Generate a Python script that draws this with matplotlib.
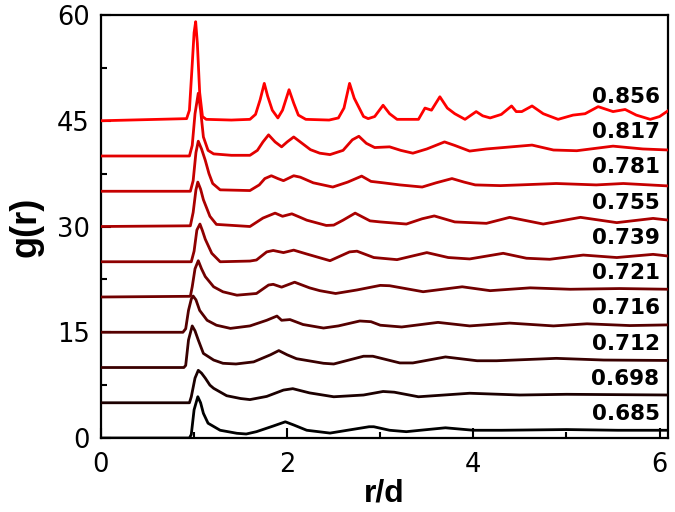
import matplotlib
matplotlib.use("Agg")
import matplotlib.pyplot as plt
from matplotlib.ticker import MultipleLocator

# ---- data ----
labels = ["0.685", "0.698", "0.712", "0.716", "0.721", "0.739", "0.755", "0.781", "0.817", "0.856"]
offsets = [0, 5, 10, 15, 20, 25, 30, 35, 40, 45]

r_0685 = [0, 0.95, 0.97, 1.00, 1.04, 1.07, 1.10, 1.15, 1.28, 1.46, 1.56, 1.67, 1.85, 1.98, 2.07, 2.21, 2.46, 2.88, 2.93, 3.10, 3.28, 3.43, 3.70, 4.00, 4.30, 5.00, 5.55, 6.1]
g_0685 = [0, 0.0, 0.5, 4.0, 5.86, 5.0, 3.5, 2.1, 1.1, 0.67, 0.57, 0.9, 1.7, 2.3, 1.85, 1.1, 0.7, 1.6, 1.6, 1.1, 0.9, 1.1, 1.45, 1.1, 1.1, 1.2, 1.1, 1.1]

r_0698 = [0, 0.95, 0.97, 1.01, 1.045, 1.08, 1.12, 1.17, 1.21, 1.35, 1.50, 1.60, 1.78, 1.96, 2.06, 2.24, 2.50, 2.82, 3.03, 3.15, 3.41, 3.96, 4.50, 5.00, 6.1]
g_0698 = [0, 0.0, 0.85, 3.5, 4.6, 4.2, 3.5, 2.5, 2.05, 1.0, 0.6, 0.45, 0.9, 1.8, 2.0, 1.4, 0.85, 1.1, 1.6, 1.5, 0.85, 1.35, 1.1, 1.2, 1.1]

r_0712 = [0, 0.89, 0.91, 0.94, 0.98, 1.01, 1.045, 1.10, 1.21, 1.31, 1.45, 1.64, 1.82, 1.91, 2.00, 2.10, 2.39, 2.50, 2.82, 2.92, 3.21, 3.35, 3.70, 4.04, 4.25, 4.89, 5.40, 6.1]
g_0712 = [0, 0.0, 0.3, 3.9, 5.9, 5.2, 3.9, 2.0, 1.06, 0.6, 0.5, 0.8, 1.8, 2.4, 1.8, 1.25, 0.6, 0.5, 1.6, 1.6, 0.65, 0.65, 1.5, 0.96, 0.96, 1.3, 1.06, 1.0]

r_0716 = [0, 0.88, 0.91, 0.94, 0.97, 0.99, 1.02, 1.06, 1.14, 1.24, 1.39, 1.60, 1.78, 1.89, 1.94, 2.03, 2.17, 2.39, 2.55, 2.78, 2.90, 3.00, 3.23, 3.62, 3.96, 4.39, 4.86, 5.22, 5.68, 6.1]
g_0716 = [0, 0.0, 0.5, 3.1, 4.7, 5.14, 4.6, 3.1, 1.7, 1.0, 0.55, 0.9, 1.7, 2.3, 1.7, 1.8, 1.1, 0.6, 0.9, 1.6, 1.5, 1.0, 0.75, 1.4, 0.9, 1.3, 0.9, 1.2, 0.95, 1.05]

r_0721 = [0, 0.96, 0.98, 1.01, 1.045, 1.08, 1.12, 1.21, 1.31, 1.46, 1.67, 1.80, 1.85, 1.94, 2.08, 2.24, 2.35, 2.52, 2.75, 3.00, 3.10, 3.46, 3.88, 4.18, 4.61, 5.04, 5.57, 6.1]
g_0721 = [0, 0.1, 1.45, 4.0, 5.15, 4.0, 2.9, 1.45, 0.74, 0.26, 0.5, 1.7, 1.8, 1.4, 2.1, 1.3, 0.9, 0.5, 1.0, 1.65, 1.6, 0.75, 1.45, 0.9, 1.3, 1.1, 1.2, 1.1]

r_0739 = [0, 0.97, 1.00, 1.03, 1.063, 1.09, 1.12, 1.19, 1.28, 1.60, 1.67, 1.78, 1.85, 1.96, 2.07, 2.21, 2.46, 2.67, 2.75, 2.93, 3.18, 3.50, 3.73, 3.96, 4.32, 4.57, 4.82, 5.18, 5.54, 5.93, 6.1]
g_0739 = [0, 0.0, 1.5, 4.5, 5.35, 4.4, 3.2, 1.2, 0.0, 0.1, 0.25, 1.4, 1.6, 1.3, 1.65, 1.1, 0.15, 1.4, 1.5, 0.6, 0.3, 1.3, 0.6, 0.4, 1.2, 0.5, 0.35, 0.95, 0.6, 1.05, 0.8]

r_0755 = [0, 0.96, 0.99, 1.02, 1.04, 1.07, 1.10, 1.17, 1.24, 1.60, 1.74, 1.87, 1.95, 2.05, 2.14, 2.21, 2.42, 2.50, 2.60, 2.73, 2.89, 3.00, 3.28, 3.45, 3.58, 3.80, 4.14, 4.39, 4.75, 5.15, 5.54, 5.93, 6.1]
g_0755 = [0, 0.1, 2.0, 5.2, 6.3, 5.3, 3.8, 1.45, 0.3, 0.0, 1.2, 1.9, 1.45, 1.8, 1.3, 0.9, 0.15, 0.2, 0.9, 1.9, 0.8, 0.65, 0.35, 1.1, 1.5, 0.65, 0.45, 1.3, 0.35, 1.3, 0.55, 1.15, 0.9]

r_0781 = [0, 0.96, 0.99, 1.02, 1.045, 1.08, 1.12, 1.16, 1.20, 1.28, 1.60, 1.70, 1.76, 1.83, 1.90, 1.96, 2.07, 2.14, 2.28, 2.49, 2.65, 2.80, 2.90, 3.03, 3.21, 3.45, 3.60, 3.77, 3.90, 4.02, 4.29, 4.50, 4.89, 5.32, 5.61, 6.1]
g_0781 = [0, 0.0, 1.5, 5.5, 7.1, 6.0, 4.4, 2.5, 1.1, 0.2, 0.1, 0.9, 1.8, 2.2, 1.8, 1.5, 2.2, 2.0, 1.2, 0.6, 1.3, 2.15, 1.4, 1.2, 0.9, 0.6, 1.2, 1.8, 1.3, 0.9, 0.8, 0.9, 1.1, 0.9, 1.1, 0.75]

r_0817 = [0, 0.95, 0.98, 1.01, 1.045, 1.07, 1.10, 1.15, 1.21, 1.40, 1.60, 1.68, 1.74, 1.80, 1.87, 1.94, 2.00, 2.07, 2.14, 2.25, 2.35, 2.46, 2.60, 2.70, 2.77, 2.85, 2.94, 3.10, 3.22, 3.35, 3.50, 3.69, 3.80, 3.96, 4.14, 4.32, 4.63, 4.86, 5.11, 5.50, 5.82, 6.1]
g_0817 = [0, 0.0, 1.5, 6.0, 8.9, 6.5, 2.7, 0.8, 0.3, 0.1, 0.1, 0.8, 2.0, 3.0, 2.0, 1.3, 2.0, 2.7, 2.0, 0.9, 0.4, 0.2, 0.8, 2.3, 2.8, 1.8, 1.2, 1.3, 0.8, 0.4, 1.0, 2.0, 1.5, 0.7, 1.0, 1.2, 1.55, 0.85, 0.75, 1.4, 1.0, 0.85]

r_0856 = [0, 0.92, 0.95, 0.98, 1.00, 1.017, 1.035, 1.06, 1.09, 1.13, 1.40, 1.60, 1.66, 1.71, 1.754, 1.79, 1.84, 1.90, 1.95, 2.02, 2.07, 2.12, 2.20, 2.45, 2.55, 2.61, 2.67, 2.72, 2.77, 2.82, 2.87, 2.94, 3.03, 3.10, 3.18, 3.41, 3.48, 3.55, 3.64, 3.72, 3.80, 3.91, 4.03, 4.10, 4.18, 4.30, 4.41, 4.46, 4.52, 4.63, 4.75, 4.91, 5.07, 5.20, 5.34, 5.50, 5.63, 5.75, 5.90, 6.00, 6.1]
g_0856 = [0, 0.3, 1.5, 8.0, 12.5, 14.05, 11.0, 4.0, 0.6, 0.2, 0.1, 0.2, 0.9, 3.0, 5.3, 3.5, 1.5, 0.4, 1.5, 4.4, 2.5, 0.8, 0.2, 0.1, 0.4, 1.8, 5.3, 3.2, 1.9, 0.6, 0.3, 0.6, 2.2, 1.0, 0.2, 0.2, 1.8, 1.5, 3.4, 1.8, 1.0, 0.2, 1.3, 0.7, 0.4, 0.9, 2.1, 1.3, 1.3, 2.1, 1.0, 0.2, 0.8, 1.0, 2.0, 1.3, 1.6, 0.8, 0.2, 0.6, 1.5]

r_series = [r_0685, r_0698, r_0712, r_0716, r_0721, r_0739, r_0755, r_0781, r_0817, r_0856]
g_series = [g_0685, g_0698, g_0712, g_0716, g_0721, g_0739, g_0755, g_0781, g_0817, g_0856]

y_ticks = [0, 15, 30, 45, 60]
x_ticks = [0, 2, 4, 6]

# ---- style ----
colors = ["#000000", "#1c0000", "#390000", "#550000", "#710000",
          "#8e0000", "#aa0000", "#c60000", "#e30000", "#ff0000"]

fig = plt.figure(figsize=(6.75, 5.12), dpi=100)
ax = fig.add_axes([0.1496, 0.1445, 0.8393, 0.8262])

for r, g, off, col, lab in zip(r_series, g_series, offsets, colors, labels):
    ax.plot(r, [v + off for v in g], color=col, lw=2.0, solid_joinstyle="round", zorder=3)
    ax.text(6.0, off + 3.4, lab, ha="right", va="center", fontsize=15.5,
            fontweight="bold", family="DejaVu Sans", color="black", zorder=4)

ax.set_xlim(0, 6.085)
ax.set_ylim(0, 60)
ax.set_xticks(x_ticks)
ax.set_yticks(y_ticks)
ax.xaxis.set_minor_locator(MultipleLocator(1))
ax.yaxis.set_minor_locator(MultipleLocator(7.5))
ax.tick_params(which="both", direction="in", width=1.5, top=False, right=False)
ax.tick_params(which="major", length=7, labelsize=18.5, pad=8)
ax.tick_params(axis="x", which="major", pad=10)
ax.tick_params(which="minor", length=4)
for lbl in ax.get_xticklabels() + ax.get_yticklabels():
    lbl.set_family("DejaVu Sans")
for s in ax.spines.values():
    s.set_linewidth(1.6)

ax.set_xlabel("r/d", fontsize=23, fontweight="bold", family="Liberation Sans")
ax.xaxis.set_label_coords(0.5, -0.095)
ax.set_ylabel("g(r)", fontsize=26, fontweight="bold", family="Liberation Sans")
ax.yaxis.set_label_coords(-0.102, 0.5)

fig.savefig("out.png", dpi=100)
